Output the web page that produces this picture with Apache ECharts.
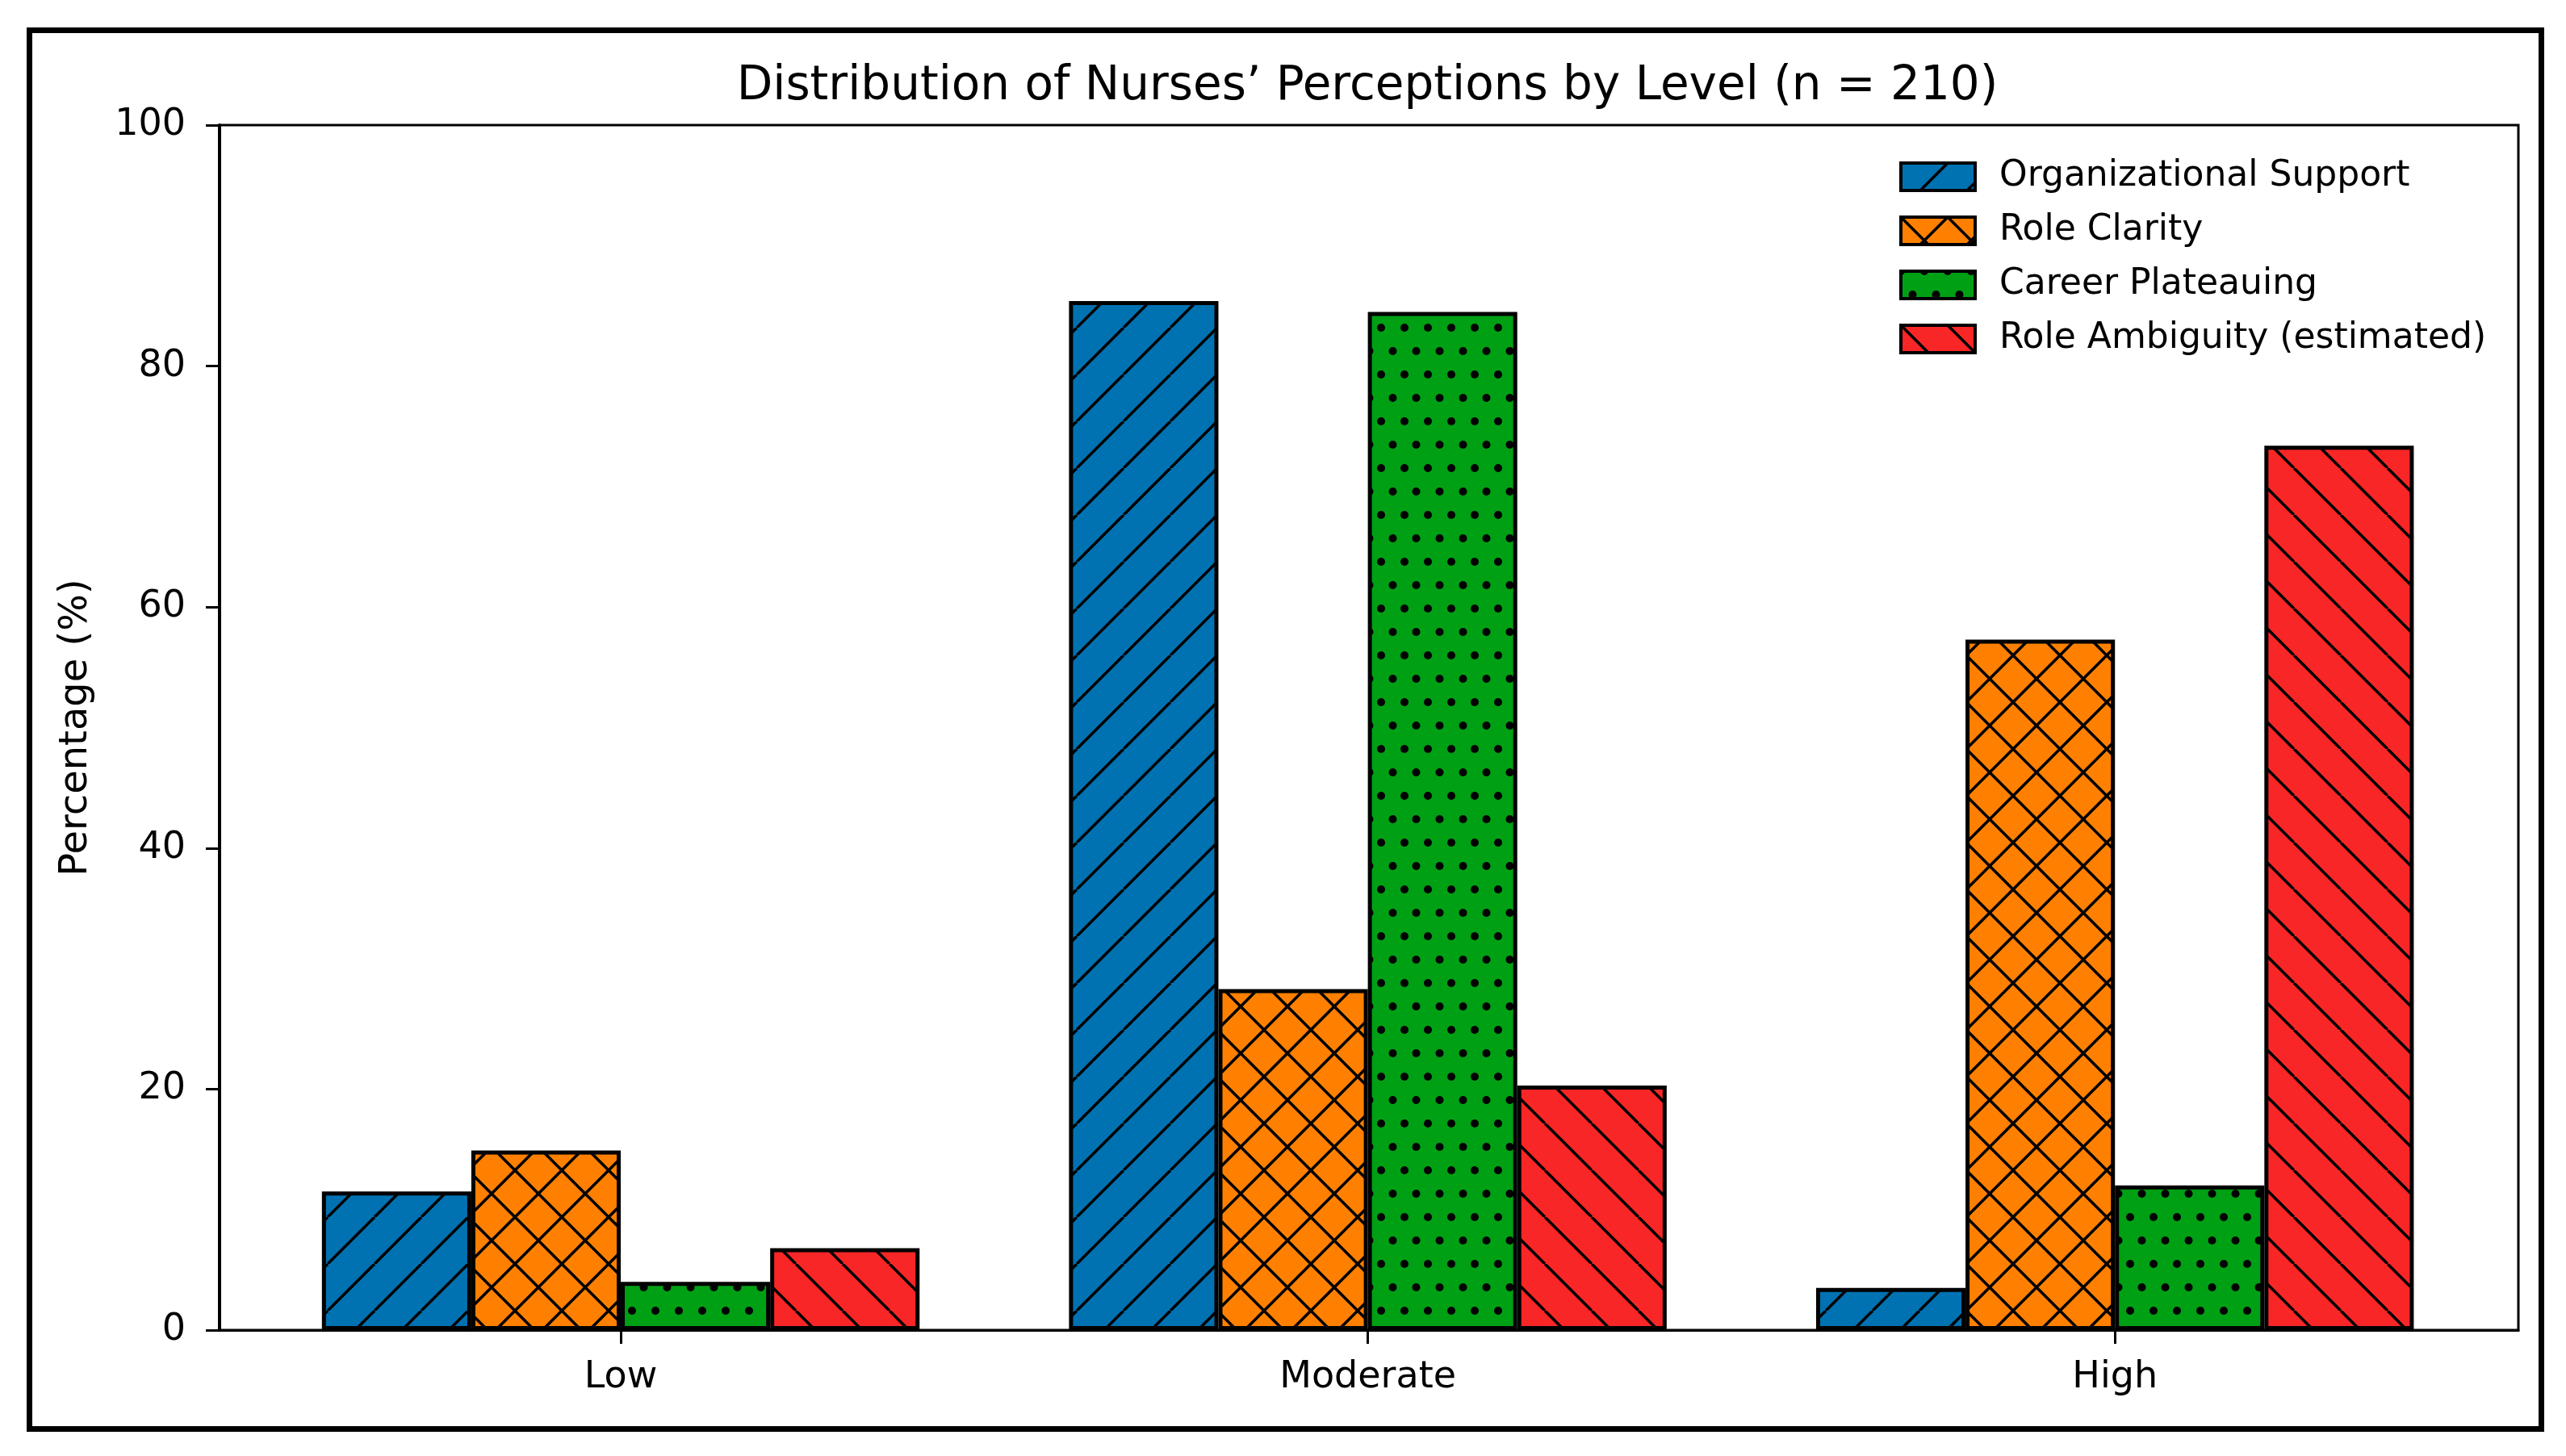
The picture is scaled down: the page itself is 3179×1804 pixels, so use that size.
<!DOCTYPE html>
<html>
<head>
<meta charset="utf-8">
<script src="https://cdn.jsdelivr.net/npm/echarts@6/dist/echarts.min.js"></script>
<style>
  html, body { margin: 0; padding: 0; background: #fff; }
  #chart { width: 3179px; height: 1804px; }
</style>
</head>
<body>
<div id="chart"></div>
<script>
// ---- Data (percentages, n = 210) ----
const categories = ['Low', 'Moderate', 'High'];
const seriesNames = ['Organizational Support', 'Role Clarity', 'Career Plateauing', 'Role Ambiguity (estimated)'];
const orgSupport = [11.5, 85.4, 3.5];
const roleClarity = [14.9, 28.3, 57.3];
const careerPlateauing = [4.0, 84.5, 12.0];
const roleAmbiguity = [6.8, 20.3, 73.4];
const yTicks = [0, 20, 40, 60, 80, 100];

// ---- Hatch patterns ----
function makeTile(w, h, bg, draw) {
  const c = document.createElement('canvas');
  c.width = w; c.height = h;
  const ctx = c.getContext('2d');
  ctx.fillStyle = bg;
  ctx.fillRect(0, 0, w, h);
  ctx.strokeStyle = '#000';
  ctx.fillStyle = '#000';
  ctx.lineWidth = 3.5;
  draw(ctx, w, h);
  return { image: c, repeat: 'repeat' };
}
const S = 58;
function fwd(ctx, w, h) { // '/'
  for (let k = -1; k <= 1; k++) {
    ctx.beginPath(); ctx.moveTo(k * w, h); ctx.lineTo(k * w + w, 0); ctx.stroke();
  }
}
function back(ctx, w, h) { // '\'
  for (let k = -1; k <= 1; k++) {
    ctx.beginPath(); ctx.moveTo(k * w, 0); ctx.lineTo(k * w + w, h); ctx.stroke();
  }
}
function dots(ctx, w, h) {
  const r = 5;
  const pts = [[0, 0], [w, 0], [0, h], [w, h], [w / 2, h / 2]];
  pts.forEach(p => { ctx.beginPath(); ctx.arc(p[0], p[1], r, 0, Math.PI * 2); ctx.fill(); });
}
const patterns = [
  makeTile(S, S, '#0072B2', fwd),
  makeTile(S, S, '#FF8000', (c, w, h) => { fwd(c, w, h); back(c, w, h); }),
  makeTile(29, 58, '#00A014', dots),
  makeTile(S, S, '#F82626', back)
];

const seriesValues = [orgSupport, roleClarity, careerPlateauing, roleAmbiguity];

const FONT = 'DejaVu Sans';
const chart = echarts.init(document.getElementById('chart'), null, { renderer: 'canvas' });

const option = {
  animation: false,
  backgroundColor: '#ffffff',
  title: {
    text: 'Distribution of Nurses\u2019 Perceptions by Level (n = 210)',
    left: 1694,
    top: 79,
    textAlign: 'center',
    padding: 0,
    textStyle: { fontFamily: FONT, fontSize: 58, fontWeight: 'normal', color: '#000' }
  },
  graphic: [{
    type: 'rect',
    shape: { x: 36.5, y: 37.5, width: 3112, height: 1733 },
    style: { fill: 'none', stroke: '#000', lineWidth: 7 },
    silent: true,
    z: 100
  }],
  legend: {
    orient: 'vertical',
    left: 2353,
    top: 197,
    padding: 0,
    itemGap: 23,
    itemWidth: 92,
    itemHeight: 34,
    icon: 'rect',
    itemStyle: { borderColor: '#000', borderWidth: 4 },
    textStyle: { fontFamily: FONT, fontSize: 44, color: '#000', lineHeight: 44, padding: [0, 0, 0, 25] },
    data: seriesNames
  },
  grid: {
    left: 272, top: 155, right: 59, bottom: 156,
    show: true, borderColor: '#000', borderWidth: 3, backgroundColor: '#fff'
  },
  xAxis: {
    type: 'value',
    min: -0.537,
    max: 2.54,
    splitLine: { show: false },
    axisLine: { show: true, onZero: false, lineStyle: { color: '#000', width: 3 } },
    axisTick: { show: true, customValues: [0, 1, 2], length: 17, lineStyle: { color: '#000', width: 3 } },
    axisLabel: {
      customValues: [0, 1, 2],
      formatter: v => categories[Math.round(v)] || '',
      fontFamily: FONT, fontSize: 46, color: '#000', margin: 36
    }
  },
  yAxis: {
    type: 'value',
    min: 0, max: 100, interval: 20,
    name: 'Percentage (%)',
    nameLocation: 'middle',
    nameGap: 153,
    nameTextStyle: { fontFamily: FONT, fontSize: 48, color: '#000' },
    splitLine: { show: false },
    axisLine: { show: true, onZero: false, lineStyle: { color: '#000', width: 4 } },
    axisTick: { show: true, length: 17, lineStyle: { color: '#000', width: 3 } },
    axisLabel: { fontFamily: FONT, fontSize: 46, color: '#000', margin: 42 }
  },
  series: seriesNames.map((name, i) => ({
    name: name,
    type: 'bar',
    barGap: '0%',
    barCategoryGap: '20%',
    data: seriesValues[i].map((v, j) => [j, v]),
    itemStyle: { color: patterns[i], borderColor: '#000', borderWidth: 5 },
    emphasis: { disabled: true }
  }))
};
chart.setOption(option);
</script>
</body>
</html>
